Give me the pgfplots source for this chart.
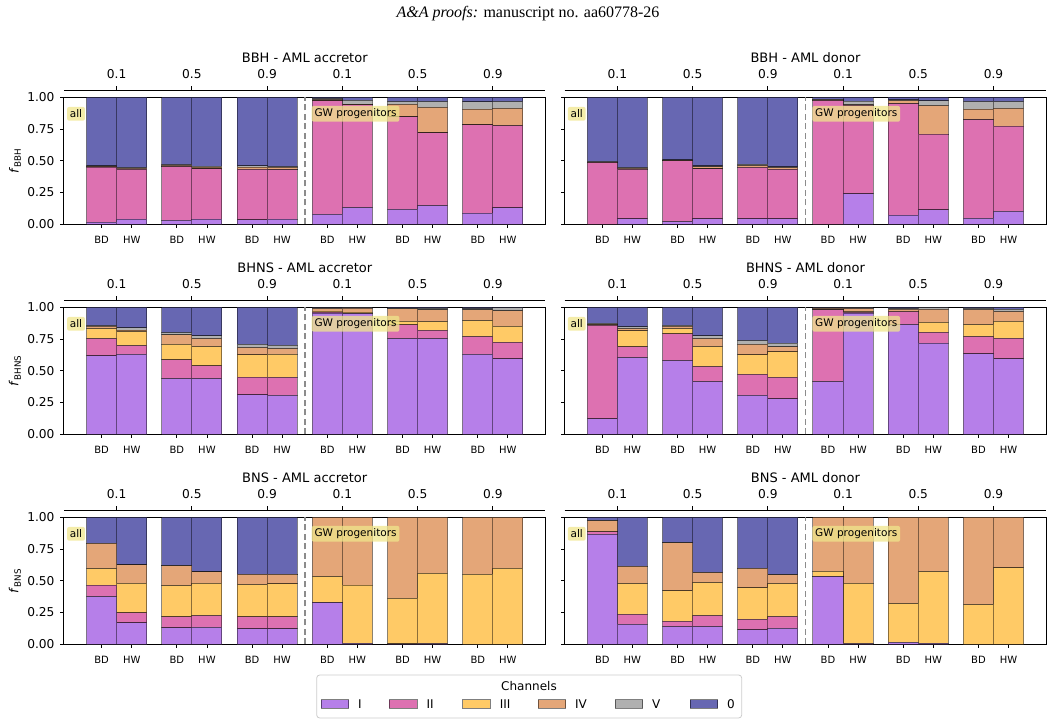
\documentclass[border=0pt]{standalone}
\usepackage{pgfplots}
\pgfplotsset{compat=1.18}
\usepackage{pgfplotstable}
\usepackage{fontspec}
\setmainfont{DejaVu Sans}
\newfontfamily\serifhead{Liberation Serif}
\definecolor{cI}{RGB}{182,127,233}
\definecolor{cII}{RGB}{221,113,177}
\definecolor{cIII}{RGB}{255,202,102}
\definecolor{cIV}{RGB}{228,166,120}
\definecolor{cV}{RGB}{176,176,176}
\definecolor{cO}{RGB}{103,103,178}
\definecolor{khakibox}{RGB}{240,230,140}

% BBH - AML accretor
\pgfplotstableread{
x I II III IV V O
-0.2 0.018 0.432 0.002 0.004 0.004 0.540
0.2 0.040 0.393 0.002 0.006 0.005 0.554
0.8 0.030 0.424 0.002 0.007 0.007 0.530
1.2 0.040 0.396 0.001 0.013 0.008 0.542
1.8 0.034 0.399 0.001 0.016 0.010 0.540
2.2 0.040 0.390 0.001 0.017 0.007 0.545
2.8 0.079 0.892 0.001 0.010 0.008 0.010
3.2 0.131 0.809 0.001 0.005 0.029 0.025
3.8 0.118 0.727 0.001 0.099 0.021 0.034
4.2 0.147 0.572 0.001 0.201 0.045 0.034
4.8 0.087 0.695 0.001 0.123 0.057 0.037
5.2 0.129 0.648 0.001 0.135 0.053 0.034
}\tabA
% BBH - AML donor
\pgfplotstableread{
x I II III IV V O
-0.2 0.000 0.486 0.001 0.002 0.004 0.507
0.2 0.042 0.391 0.002 0.005 0.006 0.554
0.8 0.021 0.478 0.002 0.003 0.003 0.493
1.2 0.042 0.394 0.001 0.015 0.007 0.541
1.8 0.042 0.407 0.001 0.012 0.010 0.528
2.2 0.042 0.391 0.001 0.012 0.006 0.548
2.8 0.000 0.974 0.001 0.005 0.005 0.015
3.2 0.239 0.698 0.001 0.002 0.029 0.031
3.8 0.073 0.877 0.001 0.023 0.006 0.020
4.2 0.113 0.596 0.001 0.224 0.037 0.029
4.8 0.047 0.777 0.001 0.081 0.060 0.034
5.2 0.102 0.670 0.001 0.140 0.053 0.034
}\tabB
% BHNS - AML accretor
\pgfplotstableread{
x I II III IV V O
-0.2 0.617 0.136 0.079 0.018 0.005 0.145
0.2 0.630 0.068 0.110 0.012 0.017 0.163
0.8 0.438 0.147 0.124 0.073 0.018 0.200
1.2 0.438 0.100 0.152 0.063 0.021 0.226
1.8 0.310 0.141 0.174 0.057 0.027 0.291
2.2 0.307 0.142 0.181 0.045 0.025 0.300
2.8 0.955 0.007 0.008 0.020 0.005 0.005
3.2 0.950 0.002 0.009 0.031 0.006 0.002
3.8 0.753 0.108 0.029 0.097 0.006 0.007
4.2 0.753 0.066 0.068 0.092 0.013 0.008
4.8 0.630 0.139 0.126 0.084 0.011 0.010
5.2 0.593 0.131 0.126 0.121 0.024 0.005
}\tabC
% BHNS - AML donor
\pgfplotstableread{
x I II III IV V O
-0.2 0.121 0.737 0.004 0.004 0.008 0.126
0.2 0.604 0.084 0.126 0.018 0.013 0.155
0.8 0.580 0.210 0.042 0.018 0.008 0.142
1.2 0.415 0.118 0.157 0.063 0.021 0.226
1.8 0.307 0.165 0.153 0.084 0.029 0.262
2.2 0.278 0.171 0.199 0.040 0.029 0.283
2.8 0.415 0.564 0.001 0.012 0.004 0.004
3.2 0.955 0.005 0.005 0.025 0.008 0.002
3.8 0.864 0.102 0.004 0.014 0.006 0.010
4.2 0.717 0.086 0.079 0.102 0.014 0.002
4.8 0.633 0.136 0.095 0.118 0.010 0.008
5.2 0.593 0.163 0.134 0.076 0.018 0.016
}\tabD
% BNS - AML accretor
\pgfplotstableread{
x I II III IV V O
-0.2 0.375 0.090 0.131 0.199 0.002 0.203
0.2 0.168 0.079 0.233 0.145 0.001 0.374
0.8 0.129 0.086 0.247 0.155 0.002 0.381
1.2 0.134 0.092 0.254 0.090 0.001 0.429
1.8 0.121 0.094 0.255 0.081 0.002 0.447
2.2 0.121 0.094 0.260 0.076 0.001 0.448
2.8 0.328 0.002 0.203 0.467 0.000 0.000
3.2 0.008 0.000 0.457 0.535 0.000 0.000
3.8 0.003 0.000 0.359 0.638 0.000 0.000
4.2 0.006 0.000 0.553 0.441 0.000 0.000
4.8 0.000 0.000 0.551 0.449 0.000 0.000
5.2 0.000 0.000 0.598 0.402 0.000 0.000
}\tabE
% BNS - AML donor
\pgfplotstableread{
x I II III IV V O
-0.2 0.866 0.019 0.005 0.082 0.004 0.024
0.2 0.157 0.079 0.242 0.136 0.002 0.384
0.8 0.139 0.042 0.239 0.378 0.002 0.200
1.2 0.139 0.087 0.260 0.078 0.002 0.434
1.8 0.113 0.084 0.247 0.154 0.002 0.400
2.2 0.126 0.092 0.260 0.068 0.002 0.452
2.8 0.533 0.002 0.040 0.425 0.000 0.000
3.2 0.005 0.000 0.475 0.520 0.000 0.000
3.8 0.015 0.000 0.305 0.680 0.000 0.000
4.2 0.008 0.000 0.564 0.428 0.000 0.000
4.8 0.000 0.000 0.312 0.688 0.000 0.000
5.2 0.000 0.000 0.601 0.399 0.000 0.000
}\tabF

\tikzset{
  boxlab/.style={fill=khakibox, fill opacity=0.75, text opacity=1, rounded corners=2pt, inner sep=2.8pt, anchor=west, font=\fontsize{10.5}{10.5}\selectfont},
}
\pgfplotsset{
  seg/.style={fill=#1, draw=black, draw opacity=0.45, line width=1pt},
  mainax/.style={anchor=south west, scale only axis, width=481.5pt, height=127pt,
    xmin=-0.7, xmax=5.7, ymin=0, ymax=1, enlargelimits=false, clip=false,
    ybar stacked, bar width=0.4,
    xtick={-0.2,0.2,0.8,1.2,1.8,2.2,2.8,3.2,3.8,4.2,4.8,5.2},
    xticklabels={BD,HW,BD,HW,BD,HW,BD,HW,BD,HW,BD,HW},
    ytick={0,0.25,0.5,0.75,1},
    tick align=outside, tick pos=left, major tick length=3.5pt,
    tick style={black, line width=0.8pt},
    axis line style={line width=1pt},
    xticklabel style={font=\fontsize{10}{10}\selectfont, anchor=center, yshift=-12pt},
    yticklabel style={font=\fontsize{12.2}{12.2}\selectfont, xshift=-2.5pt},
    ylabel style={font=\fontsize{12.5}{12.5}\selectfont, at={(axis description cs:-0.102,0.5)}, anchor=center},
    after end axis/.code={%
      \draw[black!45, line width=1.7pt, dash pattern=on 6pt off 3.5pt] (axis cs:2.5,0) -- (axis cs:2.5,1);
      \node[boxlab] at (rel axis cs:0.006,0.87) {all};
      \node[boxlab] at (axis cs:2.59,0.87) {GW progenitors};
    },
  },
  topax/.style={anchor=south west, scale only axis, width=481.5pt, height=127pt,
    xmin=-0.7, xmax=5.7, ymin=0, ymax=1, enlargelimits=false,
    axis x line*=top, axis y line=none, ytick=\empty,
    xtick={0,1,2,3,4,5}, xticklabels={0.1,0.5,0.9,0.1,0.5,0.9},
    xtick align=outside, major tick length=4.5pt,
    tick style={black, line width=0.8pt},
    axis line style={line width=1pt},
    xticklabel style={font=\fontsize{12.2}{12.2}\selectfont, anchor=center, yshift=12.5pt},
    title style={font=\fontsize{13}{13}\selectfont, at={(0.5,1)}, anchor=center, yshift=27pt},
  },
}

\newcommand\panel[5]{%
  \begin{axis}[topax, at={(#1,#2+6.7pt)}, title={#4}]
  \end{axis}
  \begin{axis}[mainax, at={(#1,#2)}, #5]
    \addplot[seg=cI] table[x=x,y=I] {#3};
    \addplot[seg=cII] table[x=x,y=II] {#3};
    \addplot[seg=cIII] table[x=x,y=III] {#3};
    \addplot[seg=cIV] table[x=x,y=IV] {#3};
    \addplot[seg=cV] table[x=x,y=V] {#3};
    \addplot[seg=cO] table[x=x,y=O] {#3};
  \end{axis}%
}

\begin{document}
\begin{tikzpicture}
\useasboundingbox (0,0) rectangle (1053pt,725pt);
\node[font=\serifhead\fontsize{16}{16}\selectfont] at (528pt,711pt) {\textit{A\&A proofs:} manuscript no. aa60778-26};

\panel{64pt}{500.7pt}{\tabA}{BBH - AML accretor}{ylabel={\textit{f}\textsubscript{BBH}}, yticklabels={0.00,0.25,0.50,0.75,1.00}}
\panel{564.7pt}{500.7pt}{\tabB}{BBH - AML donor}{yticklabels={}}
\panel{64pt}{290.7pt}{\tabC}{BHNS - AML accretor}{ylabel={\textit{f}\textsubscript{BHNS}}, yticklabels={0.00,0.25,0.50,0.75,1.00}}
\panel{564.7pt}{290.7pt}{\tabD}{BHNS - AML donor}{yticklabels={}}
\panel{64pt}{80.7pt}{\tabE}{BNS - AML accretor}{ylabel={\textit{f}\textsubscript{BNS}}, yticklabels={0.00,0.25,0.50,0.75,1.00}}
\panel{564.7pt}{80.7pt}{\tabF}{BNS - AML donor}{yticklabels={}}

% legend
\draw[black!20, line width=0.8pt, rounded corners=3pt, fill=white] (316.7pt,7pt) rectangle (741.7pt,50pt);
\node[font=\fontsize{12}{12}\selectfont] at (529pt,39.3pt) {Channels};
\foreach \px/\col/\lab in {321/cI/I, 389.3/cII/II, 462.7/cIII/III, 538/cIV/IV, 615/cV/V, 690/cO/0}{
  \draw[fill=\col, draw=black, draw opacity=0.5, line width=1pt] (\px pt,16.7pt) rectangle ++(27.7pt,8.3pt);
  \node[font=\fontsize{12}{12}\selectfont, anchor=west, inner sep=0pt] at (\px pt+37pt,21pt) {\lab};
}
\end{tikzpicture}
\end{document}
